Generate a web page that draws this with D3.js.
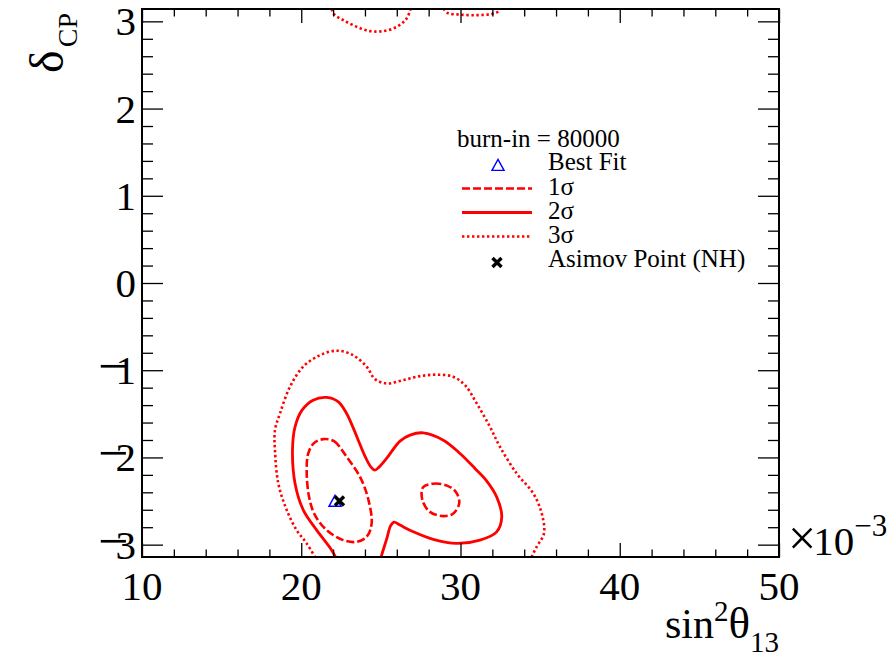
<!DOCTYPE html>
<html>
<head>
<meta charset="utf-8">
<script src="https://cdn.jsdelivr.net/npm/d3@7/dist/d3.min.js"></script>
<style>
  html, body { margin: 0; padding: 0; background: #fff; }
  svg { display: block; font-family: "Liberation Serif", "Times New Roman", serif; }
</style>
</head>
<body>
<svg id="chart" width="889" height="663"></svg>
<script>
// Axis ranges: sin^2(theta13) in units of 1e-3, delta_CP in radians
const xDomain = [10, 50];
const yDomain = [-Math.PI, Math.PI];
const xMajorTicks = [10, 20, 30, 40, 50];
const yMajorTicks = [-3, -2, -1, 0, 1, 2, 3];
const xTickLabels = ["10", "20", "30", "40", "50"];
const yTickLabels = ["\u22123", "\u22122", "\u22121", "0", "1", "2", "3"];

// Credible-region contours [sin^2(theta13) x1e3, delta_CP]
const sigma3Main = [
  [21.05, -3.20], [20.34, -2.986], [19.71, -2.834], [19.09, -2.604], [18.56, -2.298],
  [18.35, -1.916], [18.35, -1.687], [18.67, -1.492], [19.29, -1.191], [20.11, -0.961],
  [21.18, -0.827], [22.23, -0.776], [23.25, -0.827], [24.11, -0.961], [24.63, -1.102],
  [25.37, -1.152], [26.39, -1.114], [27.46, -1.068], [28.51, -1.051], [29.53, -1.074],
  [30.28, -1.171], [31.02, -1.381], [31.85, -1.649], [32.48, -1.879], [33.53, -2.184],
  [34.57, -2.413], [35.10, -2.642], [35.24, -2.871], [34.78, -3.025], [34.30, -3.20]
];
const sigma3TopLeft = [
  [21.81, 3.197], [22.06, 3.082], [22.64, 3.014], [23.48, 2.937], [24.32, 2.888],
  [25.15, 2.888], [25.99, 2.937], [26.62, 3.033], [26.95, 3.197]
];
const sigma3TopRight = [
  [28.78, 3.197], [29.15, 3.100], [29.97, 3.077], [31.02, 3.071], [31.85, 3.082],
  [32.35, 3.111], [32.54, 3.197]
];
const sigma2Main = [
  [22.31, -3.20], [21.91, -3.063], [20.97, -2.834], [20.13, -2.604], [19.61, -2.298],
  [19.45, -1.916], [19.61, -1.649], [20.05, -1.458], [20.74, -1.343], [21.60, -1.312],
  [22.33, -1.363], [22.85, -1.496], [23.19, -1.630], [23.58, -1.802], [24.00, -1.985],
  [24.38, -2.111], [24.63, -2.146], [24.88, -2.111], [25.37, -2.008], [26.20, -1.813],
  [26.83, -1.744], [27.66, -1.718], [28.92, -1.802], [29.97, -1.954], [30.91, -2.126],
  [31.60, -2.260], [32.27, -2.452], [32.59, -2.681], [32.27, -2.853], [31.22, -2.948],
  [29.76, -2.986], [28.29, -2.940], [27.04, -2.853], [26.20, -2.776], [25.82, -2.742],
  [25.60, -2.788], [25.38, -2.925], [25.05, -3.120], [24.94, -3.20]
];
const sigma1Left = [
  [21.38, -1.790], [22.06, -1.813], [22.85, -1.993], [23.69, -2.223], [24.19, -2.467],
  [24.42, -2.757], [24.11, -2.910], [23.48, -2.968], [22.64, -2.948], [21.60, -2.834],
  [20.86, -2.662], [20.49, -2.452], [20.34, -2.146], [20.44, -1.954], [20.80, -1.836]
];
const sigma1Right = [
  [27.65, -2.341], [28.29, -2.301], [29.15, -2.323], [29.72, -2.398], [29.92, -2.524],
  [29.55, -2.642], [28.92, -2.673], [28.08, -2.624], [27.61, -2.490]
];
const bestFit = [22.12, -2.51];
const asimovPoint = [22.4, -2.5];
const legendTitle = "burn-in = 80000";
const legendLabels = ["Best Fit", "1\u03c3", "2\u03c3", "3\u03c3", "Asimov Point (NH)"];

const svg = d3.select("#chart");
const frame = { left: 142, right: 779, top: 9, bottom: 557 };
const x = d3.scaleLinear().domain(xDomain).range([frame.left, frame.right]);
const y = d3.scaleLinear().domain(yDomain).range([frame.bottom, frame.top]);

const RED = "#ff0000";
const styles = {
  s1: { width: 2.6, dash: "8,3" },
  s2: { width: 2.8, dash: null },
  s3: { width: 2.6, dash: "2.4,2.6" }
};

svg.append("defs").append("clipPath").attr("id", "plotClip")
  .append("rect")
  .attr("x", frame.left).attr("y", frame.top)
  .attr("width", frame.right - frame.left).attr("height", frame.bottom - frame.top);

const plot = svg.append("g").attr("clip-path", "url(#plotClip)");

const openLine = d3.line().x(d => x(d[0])).y(d => y(d[1])).curve(d3.curveCatmullRom.alpha(0.5));
const closedLine = d3.line().x(d => x(d[0])).y(d => y(d[1])).curve(d3.curveCatmullRomClosed.alpha(0.5));

function contour(data, gen, st) {
  plot.append("path")
    .attr("d", gen(data))
    .attr("fill", "none")
    .attr("stroke", RED)
    .attr("stroke-width", st.width)
    .attr("stroke-dasharray", st.dash)
    .attr("stroke-linejoin", "round");
}
contour(sigma3Main, openLine, styles.s3);
contour(sigma3TopLeft, openLine, styles.s3);
contour(sigma3TopRight, openLine, styles.s3);
contour(sigma2Main, openLine, styles.s2);
contour(sigma1Left, closedLine, styles.s1);
contour(sigma1Right, closedLine, styles.s1);

// markers
function triangle(g, cx, cy, s) {
  g.append("path")
    .attr("d", `M${cx},${cy - s * 0.6}L${cx + s * 0.55},${cy + s * 0.4}L${cx - s * 0.55},${cy + s * 0.4}Z`)
    .attr("fill", "none").attr("stroke", "#0000ff").attr("stroke-width", 1.4);
}
function cross(g, cx, cy, s) {
  g.append("path")
    .attr("d", `M${cx - s},${cy - s}L${cx + s},${cy + s}M${cx - s},${cy + s}L${cx + s},${cy - s}`)
    .attr("stroke", "#000").attr("stroke-width", 3.4).attr("stroke-linecap", "butt");
}
triangle(plot, x(bestFit[0]), y(bestFit[1]), 11);
cross(plot, x(asimovPoint[0]), y(asimovPoint[1]), 4.5);

// frame and ticks
const xMinor = d3.range(10, 50.001, 2).filter(v => !xMajorTicks.includes(v));
const yMinor = d3.range(-3, 3.0001, 0.2).map(v => +v.toFixed(1)).filter(v => !yMajorTicks.includes(v));

function drawAxis(axisFn, scale, values, size, transform) {
  const g = svg.append("g").attr("transform", transform)
    .call(axisFn(scale).tickValues(values).tickSize(size).tickSizeOuter(0).tickFormat(""));
  g.select(".domain").remove();
  g.selectAll(".tick line").attr("stroke", "#000").attr("stroke-width", 1.3);
}
drawAxis(d3.axisBottom, x, xMajorTicks, -14, `translate(0,${frame.bottom})`);
drawAxis(d3.axisBottom, x, xMinor, -7.5, `translate(0,${frame.bottom})`);
drawAxis(d3.axisTop, x, xMajorTicks, -14, `translate(0,${frame.top})`);
drawAxis(d3.axisTop, x, xMinor, -7.5, `translate(0,${frame.top})`);
drawAxis(d3.axisLeft, y, yMajorTicks, -21, `translate(${frame.left},0)`);
drawAxis(d3.axisLeft, y, yMinor, -11, `translate(${frame.left},0)`);
drawAxis(d3.axisRight, y, yMajorTicks, -21, `translate(${frame.right},0)`);
drawAxis(d3.axisRight, y, yMinor, -11, `translate(${frame.right},0)`);

svg.append("rect")
  .attr("x", frame.left).attr("y", frame.top)
  .attr("width", frame.right - frame.left).attr("height", frame.bottom - frame.top)
  .attr("fill", "none").attr("stroke", "#000").attr("stroke-width", 2);

// tick labels
const FS = 41;
svg.append("g").selectAll("text").data(xMajorTicks).join("text")
  .attr("x", d => x(d)).attr("y", frame.bottom + 43)
  .attr("text-anchor", "middle").attr("font-size", FS)
  .text((d, i) => xTickLabels[i]);

const yl = svg.append("g").selectAll("text").data(yMajorTicks).join("text")
  .attr("x", frame.left - 6).attr("y", d => y(d) + 14)
  .attr("text-anchor", "end").attr("font-size", FS);
yl.each(function (d, i) {
  const t = d3.select(this);
  const lab = yTickLabels[i];
  if (lab.startsWith("\u2212")) {
    t.append("tspan").attr("font-size", 54).text("\u2212");
    t.append("tspan").attr("dx", -13).text(lab.slice(1));
  } else {
    t.text(lab);
  }
});

// exponent label
const ex = svg.append("text").attr("x", 788).attr("y", 555).attr("font-size", FS);
ex.append("tspan").attr("font-size", 50).text("\u00d7");
ex.append("tspan").attr("dx", -3).text("10");
ex.append("tspan").attr("font-size", 31).attr("dy", -19).text("\u22123");

// axis titles
const xt = svg.append("text").attr("x", frame.right).attr("y", 638)
  .attr("text-anchor", "end").attr("font-size", 42);
xt.append("tspan").text("sin");
xt.append("tspan").attr("font-size", 29).attr("dy", -17).text("2");
xt.append("tspan").attr("font-size", 45).attr("dy", 17).text("\u03b8");
xt.append("tspan").attr("font-size", 29).attr("dy", 14).text("13");

const yt = svg.append("text").attr("transform", "translate(63,13) rotate(-90)")
  .attr("text-anchor", "end").attr("font-size", 48);
yt.append("tspan").text("\u03b4");
yt.append("tspan").attr("font-size", 28).attr("dy", 14).attr("dx", 3).text("CP");

// legend
const lg = svg.append("g").attr("font-size", 25);
lg.append("text").attr("x", 457).attr("y", 147).text(legendTitle);
const rowY = [170, 195, 219, 243, 267];
legendLabels.forEach((lab, i) => {
  lg.append("text").attr("x", 548).attr("y", rowY[i]).text(lab);
});
triangle(lg, 498, 166, 11);
const sampleStyles = [styles.s1, styles.s2, styles.s3];
sampleStyles.forEach((st, i) => {
  const yy = rowY[i + 1] - 6.5;
  lg.append("line").attr("x1", 462).attr("x2", 532).attr("y1", yy).attr("y2", yy)
    .attr("stroke", RED).attr("stroke-width", st.width).attr("stroke-dasharray", st.dash);
});
cross(lg, 497, 262.5, 4.5);
</script>
</body>
</html>
